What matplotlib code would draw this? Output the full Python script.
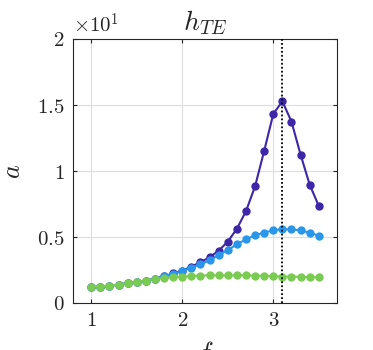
import numpy as np
import matplotlib
matplotlib.use("Agg")
import matplotlib.pyplot as plt

f = [1.0, 1.1, 1.2, 1.3, 1.4, 1.5, 1.6, 1.7, 1.8, 1.9, 2.0, 2.1, 2.2, 2.3, 2.4,
     2.5, 2.6, 2.7, 2.8, 2.9, 3.0, 3.1, 3.2, 3.3, 3.4, 3.5]
a_purple = [0.12, 0.125, 0.13, 0.14, 0.15, 0.16, 0.17, 0.184, 0.202, 0.224, 0.245,
            0.275, 0.31, 0.346, 0.396, 0.465, 0.562, 0.695, 0.884, 1.152, 1.432,
            1.528, 1.374, 1.124, 0.896, 0.735]
a_blue = [0.12, 0.125, 0.13, 0.14, 0.15, 0.16, 0.17, 0.184, 0.202, 0.222, 0.242,
          0.268, 0.293, 0.323, 0.364, 0.40, 0.445, 0.482, 0.513, 0.533, 0.551,
          0.558, 0.558, 0.55, 0.533, 0.51]
a_green = [0.12, 0.125, 0.13, 0.14, 0.15, 0.16, 0.17, 0.18, 0.19, 0.195, 0.20,
           0.205, 0.207, 0.21, 0.21, 0.21, 0.21, 0.21, 0.208, 0.205, 0.203, 0.20,
           0.20, 0.198, 0.196, 0.195]
f_mark = 3.1
yticks = [0, 0.5, 1, 1.5, 2]
ytick_labels = ["$0$", "$0.5$", "$1$", "$1.5$", "$2$"]
xticks = [1, 2, 3]
xtick_labels = ["$1$", "$2$", "$3$"]

plt.rcParams['mathtext.fontset'] = 'cm'
plt.rcParams['font.family'] = ['DejaVu Serif']

fig = plt.figure(figsize=(3.73, 3.5), dpi=100)
ax = fig.add_axes([73/373, 1-303/350, (337-73)/373, (303-39)/350])

ax.plot(f, a_purple, '-o', color='#3d26a8', ms=5, lw=1.5, zorder=1)
ax.plot(f, a_blue, '-o', color='#2a96ea', ms=5, lw=1.5, zorder=2)
ax.plot(f, a_green, '-o', color='#7acb52', ms=5, lw=1.5, zorder=3)
ax.axvline(f_mark, color='black', ls=(0, (1, 1.2)), lw=1.3, zorder=4)

ax.set_xlim(0.8, 3.7)
ax.set_ylim(0, 2)
ax.set_xticks(xticks)
ax.set_xticklabels(xtick_labels, fontsize=15)
ax.set_yticks(yticks)
ax.set_yticklabels(ytick_labels, fontsize=15)
ax.tick_params(direction='in', top=True, right=True, length=3, color='#262626',
               labelcolor='#262626', pad=6)
ax.grid(True, color='#dddddd', lw=0.8)
ax.set_axisbelow(True)
for s in ax.spines.values():
    s.set_color('#262626')
    s.set_linewidth(0.8)

ax.set_title(r'$h_{TE}$', fontsize=20, pad=6, color='#262626')
ax.set_ylabel(r'$a$', fontsize=19, color='#262626', labelpad=9)
ax.set_xlabel(r'$f$', fontsize=19, color='#262626', labelpad=6)
ax.text(0.0, 1.01, r'$\times10^1$', transform=ax.transAxes, fontsize=15,
        color='#262626', ha='left', va='bottom')

fig.savefig('out.png', dpi=100)
